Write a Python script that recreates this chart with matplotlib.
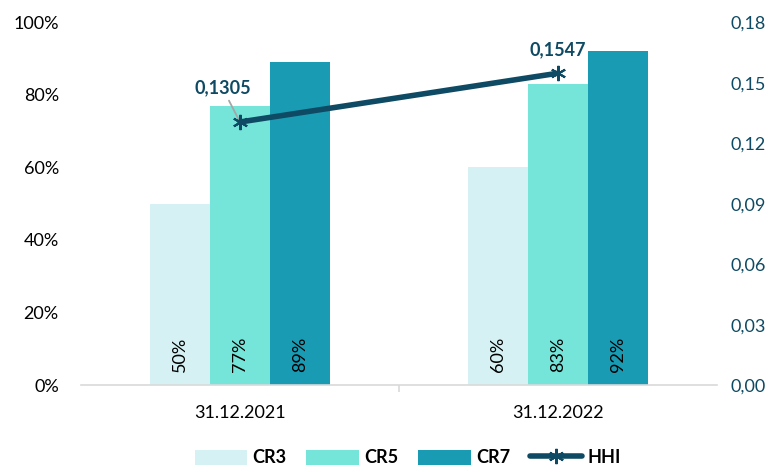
import numpy as np
import matplotlib.pyplot as plt
from matplotlib.ticker import FuncFormatter

plt.rcParams['font.family'] = ['Lato', 'DejaVu Sans']

dates = ['31.12.2021', '31.12.2022']
cr3 = [50, 60]
cr5 = [77, 83]
cr7 = [89, 92]
hhi = [0.1305, 0.1547]

c_cr3 = '#D5F1F3'
c_cr5 = '#75E4D9'
c_cr7 = '#1A9BB4'
c_hhi = '#0E4A63'

fig = plt.figure(figsize=(7.8, 4.72), dpi=100)
ax = fig.add_axes([81 / 780, 0.184, 636 / 780, 0.769])
ax2 = ax.twinx()

x = np.arange(len(dates))
w = 0.188
series = [(cr3, c_cr3, 'CR3'), (cr5, c_cr5, 'CR5'), (cr7, c_cr7, 'CR7')]
for k, (vals, col, lab) in enumerate(series):
    pos = x + (k - 1) * w
    ax.bar(pos, vals, w, color=col, label=lab, zorder=2)
    for p, v in zip(pos, vals):
        ax.text(p, 8.5, f'{v}%', rotation=90, ha='center', va='center',
                fontsize=13, color='black', zorder=3)

ax.set_xlim(-0.5, 1.5)
ax.set_ylim(0, 100)
ax.set_yticks(range(0, 101, 20))
ax.yaxis.set_major_formatter(FuncFormatter(lambda v, _: f'{v:.0f}%'))
ax.set_xticks(x)
ax.set_xticklabels(dates)
ax.set_xticks([0.5], minor=True)
ax.tick_params(axis='x', which='major', length=0, pad=14, labelsize=13)
ax.tick_params(axis='x', which='minor', length=5, color='#D9D9D9', width=1.2)
ax.tick_params(axis='y', length=0, labelsize=13, pad=16)

ax2.plot(x, hhi, color=c_hhi, lw=4, marker=(6, 2, 0), markersize=11, mew=1.5,
         label='HHI', zorder=5, solid_capstyle='round')
ax2.set_ylim(0, 0.18)
ax2.set_yticks(np.arange(0, 0.1801, 0.03))
ax2.yaxis.set_major_formatter(FuncFormatter(lambda v, _: f'{v:.2f}'.replace('.', ',')))
ax2.tick_params(axis='y', length=0, labelsize=13, pad=10, labelcolor=c_hhi)

ax2.annotate('0,1305', xy=(x[0], hhi[0]), xytext=(x[0] - 0.055, 0.1473),
             ha='center', va='center', fontsize=13, fontweight='bold', color=c_hhi,
             arrowprops=dict(arrowstyle='-', color='#A6A6A6', lw=1.3,
                             shrinkA=1, shrinkB=2))
ax2.text(x[1], hhi[1] + 0.0075, '0,1547', ha='center', va='bottom',
         fontsize=13, fontweight='bold', color=c_hhi)

for a in (ax, ax2):
    for s in ('top', 'left', 'right'):
        a.spines[s].set_visible(False)
ax.spines['bottom'].set_color('#D9D9D9')
ax.spines['bottom'].set_linewidth(1.2)
ax2.spines['bottom'].set_visible(False)

h1, l1 = ax.get_legend_handles_labels()
h2, l2 = ax2.get_legend_handles_labels()
fig.legend(h1 + h2, l1 + l2, loc='center', bbox_to_anchor=(0.523, 0.03), ncol=4,
           frameon=False, prop={'weight': 'bold', 'size': 13},
           handlelength=2.9, handleheight=0.9, columnspacing=1.1, handletextpad=0.3)

fig.savefig('out.png', dpi=100)
